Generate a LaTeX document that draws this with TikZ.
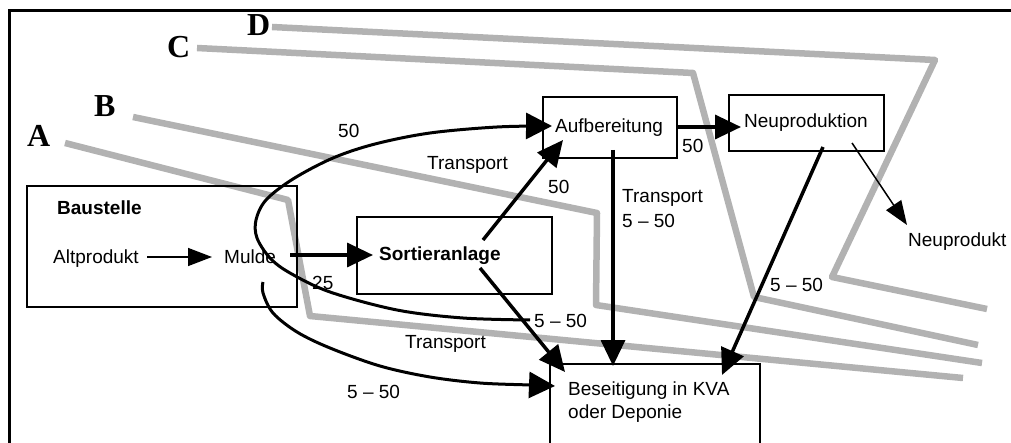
\documentclass[tikz,border=0pt]{standalone}
\usepackage{fontspec}
\setmainfont{Liberation Sans}
\newfontfamily\letterfont{Liberation Serif}
\usetikzlibrary{arrows.meta}
\definecolor{bandgray}{RGB}{178,178,178}
\begin{document}
\begin{tikzpicture}[x=1pt,y=-1pt,
  lbl/.style={anchor=base west,inner sep=0pt,font=\fontsize{19}{23}\selectfont},
  boldlbl/.style={anchor=base west,inner sep=0pt,font=\fontsize{19}{23}\selectfont\bfseries},
  zone/.style={anchor=base west,inner sep=0pt,font=\fontsize{32}{32}\selectfont\letterfont\bfseries},
  band/.style={draw=bandgray,line width=6.5pt,line join=round},
  box/.style={draw,line width=1.6pt,inner sep=0pt},
  flow/.style={line width=3.5pt,-{Triangle[length=26pt,width=24pt]}},
  thinflow/.style={line width=1.5pt,-{Triangle[length=24pt,width=18pt]}},
  swing/.style={line width=3pt},
  swingflow/.style={line width=3pt,-{Triangle[length=26pt,width=26pt]}},
]
\useasboundingbox (0,0) rectangle (1011,443);
\clip (0,0) rectangle (1011,443);

% outer frame (open towards bottom and right)
\draw[line width=3pt] (9,470) -- (9,11) -- (1030,11);

% zone boundaries A--D
\draw[band] (65,143) -- (288,200) -- (310,316) -- (963,378);
\draw[band] (133,117) -- (597,213) -- (596,305) -- (982,363);
\draw[band] (197,48) -- (693,73) -- (754,297) -- (978,345);
\draw[band] (272,27) -- (935,60) -- (832,277) -- (987,309);

\node[zone] (zA) at (27,147) {A};
\node[zone] (zB) at (94,117) {B};
\node[zone] (zC) at (167,58) {C};
\node[zone] (zD) at (247,36) {D};

% boxes
\node[box,minimum width=270pt,minimum height=121pt] (site) at (162,246.5) {};
\node[box,minimum width=195pt,minimum height=77pt] (sortbox) at (454.5,255.5) {};
\node[box,minimum width=134pt,minimum height=61pt] (aufbbox) at (610,127.5) {};
\node[box,minimum width=155pt,minimum height=56pt] (neubox) at (806.5,123) {};
\node[box,minimum width=210pt,minimum height=106pt] (besbox) at (655,417) {};

% texts
\node[boldlbl] (bau) at (57,215) {Baustelle};
\node[lbl] (alt) at (53,264) {Altprodukt};
\node[lbl] (mulde) at (224,264) {Mulde};
\node[boldlbl] (sort) at (379,261) {Sortieranlage};
\node[lbl] (aufb) at (555,133) {Aufbereitung};
\node[lbl] (neu) at (744,128) {Neuproduktion};
\node[lbl] (neuprod) at (908,247) {Neuprodukt};
\node[lbl] (bes1) at (568,395) {Beseitigung in KVA};
\node[lbl] (bes2) at (568,418) {oder Deponie};

% flow labels
\node[lbl] (l50a) at (338,138) {50};
\node[lbl] (ltra) at (427,170) {Transport};
\node[lbl] (l50b) at (548,194) {50};
\node[lbl] (l50c) at (682,153) {50};
\node[lbl] (ltrb) at (622,203) {Transport};
\node[lbl] (l550a) at (622,228) {5 -- 50};
\node[lbl] (l25) at (312,290) {25};
\node[lbl] (l550b) at (534,327) {5 -- 50};
\node[lbl] (ltrc) at (405,348) {Transport};
\node[lbl] (l550c) at (347,398) {5 -- 50};
\node[lbl] (l550d) at (770,291) {5 -- 50};

% connector end points
\coordinate (altR) at (147,257);
\coordinate (muldeL) at (212,257);
\coordinate (muldeR) at (290,255);
\coordinate (sortL) at (373,255);
\coordinate (sortT) at (483,240);
\coordinate (aufbB) at (563,140);
\coordinate (sortB) at (480,268);
\coordinate (besTL) at (565,372);
\coordinate (aufbD) at (613,150);
\coordinate (besT) at (613,366);
\coordinate (aufbR) at (677,127);
\coordinate (neuL) at (741,127);
\coordinate (neuB) at (823,147);
\coordinate (besTR) at (722,375);
\coordinate (neuBR) at (852,143);
\coordinate (neuprodT) at (907,225);
\coordinate (loopS) at (530,320);
\coordinate (aufbL) at (552,126);
\coordinate (muldeD) at (263,282);
\coordinate (besL) at (555,386);

% flows
\draw[thinflow] (altR) -- (muldeL);
\draw[flow] (muldeR) -- (sortL);
\draw[flow] (sortT) -- (aufbB);
\draw[flow] (sortB) -- (besTL);
\draw[flow] (aufbD) -- (besT);
\draw[flow] (aufbR) -- (neuL);
\draw[flow] (neuB) -- (besTR);
\draw[thinflow] (neuBR) -- (neuprodT);

\draw[swingflow] plot[smooth,tension=0.55] coordinates {(loopS) (463,318) (397,310) (330,292) (290,273) (270,258) (257,238) (256,220) (266,200) (293,179) (333,158) (375,144) (430,133) (497,127) (aufbL)};
\draw[swingflow] plot[smooth,tension=0.55] coordinates {(muldeD) (263,293) (273,313) (297,332) (330,348) (380,366) (430,377) (480,383) (530,385) (besL)};
\end{tikzpicture}
\end{document}
